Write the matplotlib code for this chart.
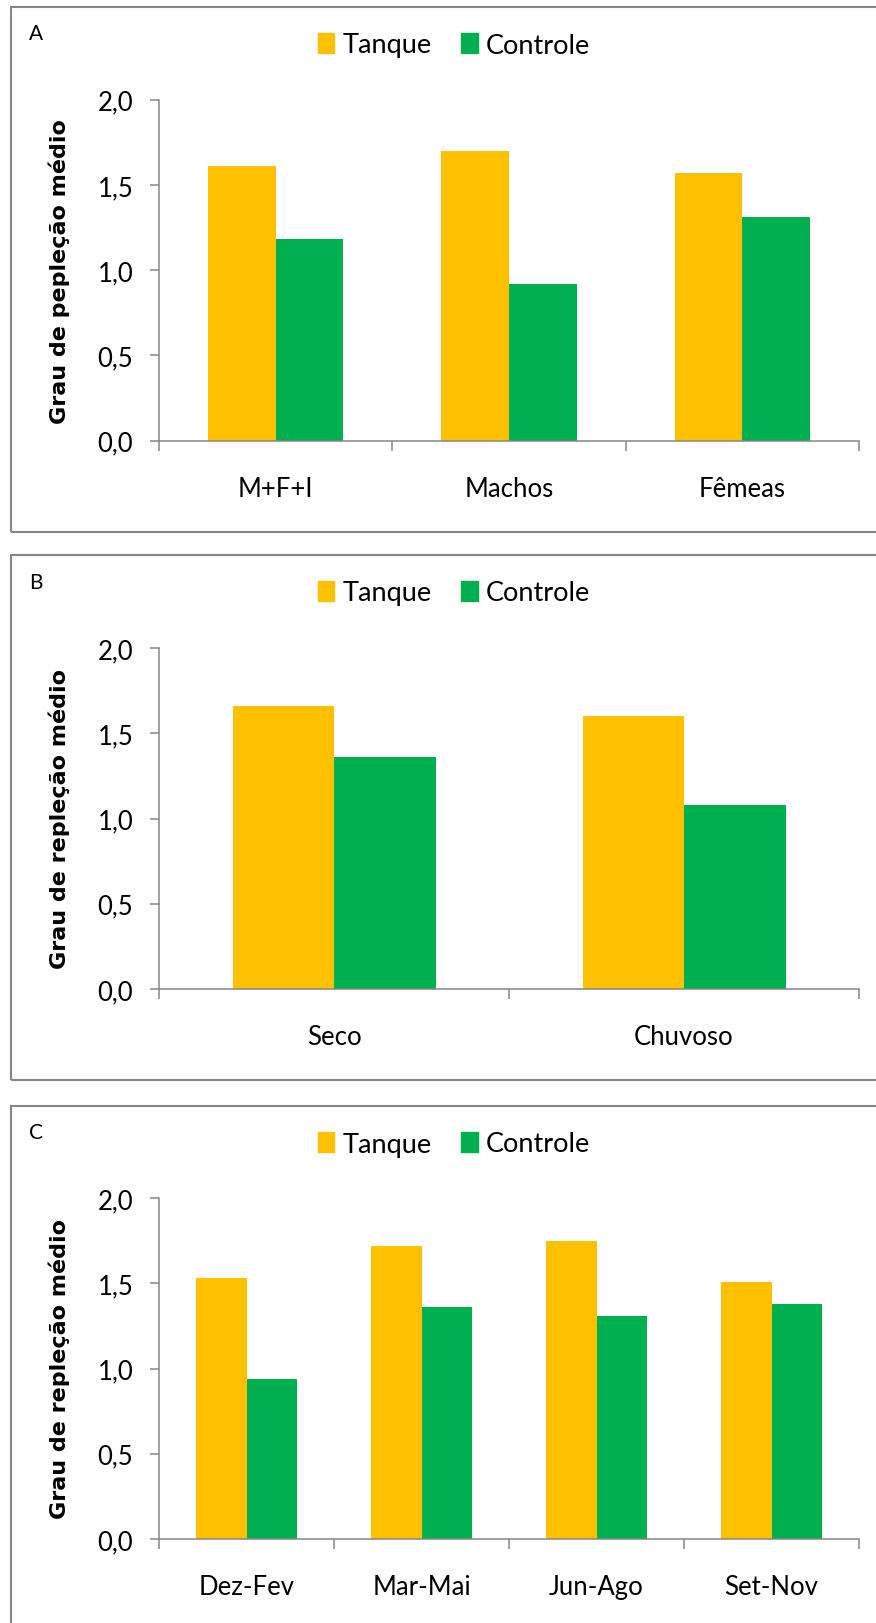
import numpy as np
import matplotlib
matplotlib.use("Agg")
import matplotlib.pyplot as plt
from matplotlib.patches import Rectangle, Patch

plt.rcParams['font.family'] = ['Lato', 'DejaVu Sans']

W, H = 876, 1624

series = ["Tanque", "Controle"]
colors = ["#FFC000", "#00B050"]

cats_a = ["M+F+I", "Machos", "Fêmeas"]
tanque_a = [1.61, 1.70, 1.57]
controle_a = [1.18, 0.92, 1.31]

cats_b = ["Seco", "Chuvoso"]
tanque_b = [1.66, 1.60]
controle_b = [1.36, 1.08]

cats_c = ["Dez-Fev", "Mar-Mai", "Jun-Ago", "Set-Nov"]
tanque_c = [1.53, 1.72, 1.75, 1.51]
controle_c = [0.94, 1.36, 1.31, 1.38]

ylabel_a = "Grau de pepleção médio"
ylabel_bc = "Grau de repleção médio"

gray = "#868686"

fig = plt.figure(figsize=(W / 100, H / 100), dpi=100)


def px_rect(x0, y0, x1, y1):
    # pixel box (top-left origin) -> figure fraction rect
    return [x0 / W, 1 - y1 / H, (x1 - x0) / W, (y1 - y0) / H]


def panel(letter, cats, tanque, controle, ylabel, box, ax_box, letter_y, leg_y):
    bx0, by0, bx1, by1 = box
    fig.patches.append(Rectangle((bx0 / W, 1 - by1 / H), (bx1 - bx0) / W, (by1 - by0) / H,
                                 transform=fig.transFigure, fill=False,
                                 edgecolor=gray, linewidth=1.5))
    ax = fig.add_axes(px_rect(*ax_box))
    n = len(cats)
    x = np.arange(n)
    w = 0.29
    ax.bar(x - w / 2, tanque, w, color=colors[0], label=series[0])
    ax.bar(x + w / 2, controle, w, color=colors[1], label=series[1])
    ax.set_xlim(-0.5, n - 0.5)
    ax.set_ylim(0, 2.0)
    yt = [0, 0.5, 1.0, 1.5, 2.0]
    ax.set_yticks(yt)
    ax.set_yticklabels([f"{v:.1f}".replace(".", ",") for v in yt], fontsize=18.5)
    ax.set_xticks(x)
    ax.set_xticklabels(cats, fontsize=18.5)
    ax.set_xticks(np.arange(n + 1) - 0.5, minor=True)
    ax.tick_params(axis="x", which="major", length=0, pad=25)
    ax.tick_params(axis="x", which="minor", length=7, width=1.1, color=gray, direction="out")
    ax.tick_params(axis="y", length=6.5, width=1.1, color=gray, direction="out", pad=12)
    for s in ["top", "right"]:
        ax.spines[s].set_visible(False)
    for s in ["left", "bottom"]:
        ax.spines[s].set_color(gray)
        ax.spines[s].set_linewidth(1.1)
    ax.set_ylabel(ylabel, fontsize=16, fontweight="bold", family="DejaVu Sans")
    ax.yaxis.set_label_coords((70 - ax_box[0]) / (ax_box[2] - ax_box[0]), 0.5)

    fig.text(36 / W, 1 - letter_y / H, letter, fontsize=15, ha="center", va="center")
    handles = [Patch(color=c) for c in colors]
    fig.legend(handles, series, loc="center", bbox_to_anchor=(454 / W, 1 - leg_y / H),
               ncol=2, frameon=False, fontsize=19.5, handlelength=0.6, handleheight=0.75,
               handletextpad=0.3, columnspacing=1.1)
    return ax


panel("A", cats_a, tanque_a, controle_a, ylabel_a,
      (11, 8, 900, 533), (159, 100.5, 859, 441.8), 34, 46)
panel("B", cats_b, tanque_b, controle_b, ylabel_bc,
      (11, 556, 900, 1081), (159, 649, 859, 990), 583, 594)
panel("C", cats_c, tanque_c, controle_c, ylabel_bc,
      (11, 1107, 900, 1700), (159, 1199, 859, 1540), 1133, 1145)

fig.savefig("out.png", dpi=100)
